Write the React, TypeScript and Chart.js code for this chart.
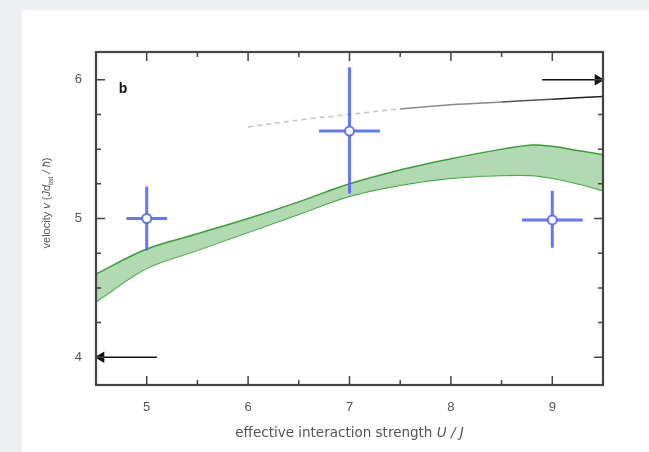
import React, { useEffect, useRef } from "react";
import { Chart, registerables } from "chart.js";

Chart.register(...registerables);

// ---- data ----
const xTicks = [5, 6, 7, 8, 9];
const xMinorTicks = [5.5, 6.5, 7.5, 8.5];
const yTicks = [4, 5, 6];
const yMinorTicks = [4.25, 4.5, 4.75, 5.25, 5.5, 5.75];

const measX = [5, 7, 9];
const measY = [5.0, 5.63, 4.99];
const measYLow = [4.77, 5.18, 4.79];
const measYHigh = [5.23, 6.09, 5.2];
const measXErr = [0.2, 0.3, 0.3];

const bandX = [4.5, 5, 5.5, 6, 6.5, 7, 7.5, 8, 8.5, 8.8, 9, 9.25, 9.5];
const bandUpper = [4.6, 4.78, 4.89, 5.0, 5.12, 5.25, 5.35, 5.43, 5.5, 5.53, 5.52, 5.49, 5.46];
const bandLower = [4.4, 4.64, 4.77, 4.9, 5.03, 5.16, 5.24, 5.29, 5.31, 5.31, 5.29, 5.25, 5.2];

const theoryX = [6, 6.5, 7, 7.5, 8, 8.5, 9, 9.5];
const theoryY = [5.66, 5.71, 5.75, 5.79, 5.82, 5.84, 5.86, 5.88];

const arrowTopX = [8.9, 9.45];
const arrowTopY = [6, 6];
const arrowBottomX = [5.1, 4.55];
const arrowBottomY = [4, 4];

const panelLabel = "b";
// title pieces: [text, style]  style: r = regular, i = italic, s = subscript
const xTitleParts: [string, string][] = [
  ["effective interaction strength ", "r"],
  ["U / J", "i"],
];
const yTitleParts: [string, string][] = [
  ["velocity ", "r"],
  ["v", "i"],
  [" (", "r"],
  ["Jd", "i"],
  ["lat", "s"],
  [" / ħ", "i"],
  [")", "r"],
];

const BLUE = "rgba(88,104,245,0.9)";
const FONT = '"Liberation Sans", Arial, sans-serif';
const XT_FONT = '"DejaVu Sans", Verdana, sans-serif';
const TITLE_COLOR = "#555";

function fontFor(style: string, size: number, family: string) {
  if (style === "i") return `italic ${size}px ${family}`;
  if (style === "s") return `${Math.round(size * 0.7)}px ${family}`;
  return `${size}px ${family}`;
}

function drawRich(ctx: any, parts: [string, string][], size: number, family: string, cx: number, cy: number) {
  let total = 0;
  const widths = parts.map(([t, s]) => {
    ctx.font = fontFor(s, size, family);
    const w = ctx.measureText(t).width;
    total += w;
    return w;
  });
  let x = cx - total / 2;
  ctx.textAlign = "left";
  ctx.textBaseline = "middle";
  parts.forEach(([t, s], i) => {
    ctx.font = fontFor(s, size, family);
    ctx.fillText(t, x, s === "s" ? cy + size * 0.3 : cy);
    x += widths[i];
  });
}

const framePlugin = {
  id: "frameTicks",
  afterDatasetsDraw(chart: any) {
    const { ctx, chartArea: a, scales } = chart;
    const xs = scales.x;
    const ys = scales.y;
    ctx.save();
    ctx.strokeStyle = "#444";
    ctx.lineWidth = 1.5;
    const major = 9;
    const minor = 5;
    const drawX = (vals: number[], len: number) => {
      vals.forEach((v) => {
        const px = xs.getPixelForValue(v);
        ctx.beginPath();
        ctx.moveTo(px, a.bottom);
        ctx.lineTo(px, a.bottom - len);
        ctx.moveTo(px, a.top);
        ctx.lineTo(px, a.top + len);
        ctx.stroke();
      });
    };
    const drawY = (vals: number[], len: number) => {
      vals.forEach((v) => {
        const py = ys.getPixelForValue(v);
        ctx.beginPath();
        ctx.moveTo(a.left, py);
        ctx.lineTo(a.left + len, py);
        ctx.moveTo(a.right, py);
        ctx.lineTo(a.right - len, py);
        ctx.stroke();
      });
    };
    drawX(xTicks, major);
    drawX(xMinorTicks, minor);
    drawY(yTicks, major);
    drawY(yMinorTicks, minor);
    ctx.lineWidth = 2.2;
    ctx.strokeRect(a.left, a.top, a.right - a.left, a.bottom - a.top);
    ctx.fillStyle = "#111";
    ctx.font = `bold 14px ${FONT}`;
    ctx.textAlign = "center";
    ctx.textBaseline = "middle";
    ctx.fillText(panelLabel, a.left + 27, a.top + 37);

    // axis titles
    ctx.fillStyle = TITLE_COLOR;
    drawRich(ctx, xTitleParts, 13.5, XT_FONT, (a.left + a.right) / 2, 433);
    ctx.save();
    ctx.translate(47, 203);
    ctx.rotate(-Math.PI / 2);
    drawRich(ctx, yTitleParts, 11, FONT, 0, 0);
    ctx.restore();
    ctx.restore();
  },
};

export default function App() {
  const ref = useRef<HTMLCanvasElement | null>(null);

  useEffect(() => {
    document.body.style.margin = "0";
    if (!ref.current) return;

    const errData: any[] = [];
    measX.forEach((x, i) => {
      errData.push({ x: x - measXErr[i], y: measY[i] });
      errData.push({ x: x + measXErr[i], y: measY[i] });
      errData.push({ x, y: null });
      errData.push({ x, y: measYLow[i] });
      errData.push({ x, y: measYHigh[i] });
      errData.push({ x, y: null });
    });

    const segColor = (c: any) => {
      const x = c.p0.parsed.x;
      if (x < 7.5) return "#c4c4c4";
      if (x < 8.5) return "#8a8a8a";
      if (x < 9) return "#555";
      return "#222";
    };

    const chart = new Chart(ref.current, {
      type: "line",
      data: {
        datasets: [
          {
            label: "measured",
            data: measX.map((x, i) => ({ x, y: measY[i] })),
            showLine: false,
            pointRadius: 4.5,
            pointBackgroundColor: "#ffffff",
            pointBorderColor: BLUE,
            pointBorderWidth: 2,
          } as any,
          {
            label: "errors",
            data: errData,
            borderColor: BLUE,
            borderWidth: 3,
            pointRadius: 0,
            spanGaps: false,
            borderCapStyle: "butt",
          } as any,
          {
            label: "arrowTop",
            data: arrowTopX.map((x, i) => ({ x, y: arrowTopY[i] })),
            borderColor: "#111",
            borderWidth: 1.5,
            pointStyle: "triangle",
            pointRadius: (c: any) => (c.dataIndex === 1 ? 5 : 0),
            pointRotation: 90,
            pointBackgroundColor: "#111",
            pointBorderColor: "#111",
            clip: false,
          } as any,
          {
            label: "arrowBottom",
            data: arrowBottomX.map((x, i) => ({ x, y: arrowBottomY[i] })),
            borderColor: "#111",
            borderWidth: 1.5,
            pointStyle: "triangle",
            pointRadius: (c: any) => (c.dataIndex === 1 ? 5 : 0),
            pointRotation: -90,
            pointBackgroundColor: "#111",
            pointBorderColor: "#111",
            clip: false,
          } as any,
          {
            label: "theory",
            data: theoryX.map((x, i) => ({ x, y: theoryY[i] })),
            borderWidth: 1.5,
            pointRadius: 0,
            tension: 0.4,
            segment: {
              borderColor: segColor,
              borderDash: (c: any) => (c.p0.parsed.x < 7.5 ? [5, 4] : undefined),
            },
          } as any,
          {
            label: "upper",
            data: bandX.map((x, i) => ({ x, y: bandUpper[i] })),
            borderColor: "#3d9b3d",
            borderWidth: 1.5,
            pointRadius: 0,
            tension: 0.35,
            fill: "+1",
            backgroundColor: "rgba(165,212,165,0.85)",
          } as any,
          {
            label: "lower",
            data: bandX.map((x, i) => ({ x, y: bandLower[i] })),
            borderColor: "#3d9b3d",
            borderWidth: 1.5,
            pointRadius: 0,
            tension: 0.35,
            fill: false,
          } as any,
        ],
      },
      options: {
        animation: false,
        responsive: false,
        maintainAspectRatio: false,
        layout: { padding: { left: 0, right: 46, top: 52, bottom: 0 } },
        plugins: {
          legend: { display: false },
          tooltip: { enabled: false },
        },
        scales: {
          x: {
            type: "linear",
            min: 4.5,
            max: 9.5,
            grid: { display: false, drawTicks: false },
            border: { display: false },
            afterBuildTicks: (s: any) => {
              s.ticks = xTicks.map((v) => ({ value: v }));
            },
            afterFit: (s: any) => {
              s.height = 67;
            },
            ticks: {
              padding: 15,
              color: "#555",
              font: { family: FONT, size: 13 },
              callback: (v: any) => String(v),
            },
            title: { display: false },
          },
          y: {
            type: "linear",
            min: 3.8,
            max: 6.2,
            grid: { display: false, drawTicks: false },
            border: { display: false },
            afterBuildTicks: (s: any) => {
              s.ticks = yTicks.map((v) => ({ value: v }));
            },
            afterFit: (s: any) => {
              s.width = 96;
            },
            ticks: {
              padding: 14,
              color: "#555",
              font: { family: FONT, size: 13 },
              callback: (v: any) => String(v),
            },
            title: { display: false },
          },
        },
      },
      plugins: [framePlugin],
    });
    return () => chart.destroy();
  }, []);

  return (
    <div
      style={{
        position: "fixed",
        left: 0,
        top: 0,
        width: 649,
        height: 452,
        background: "#eceef1",
        overflow: "hidden",
      }}
    >
      <div
        style={{
          position: "absolute",
          left: 22,
          top: 10,
          right: 0,
          bottom: 0,
          background: "#ffffff",
        }}
      />
      <canvas
        ref={ref}
        width={649}
        height={452}
        style={{ position: "absolute", left: 0, top: 0, display: "block" }}
      />
    </div>
  );
}
